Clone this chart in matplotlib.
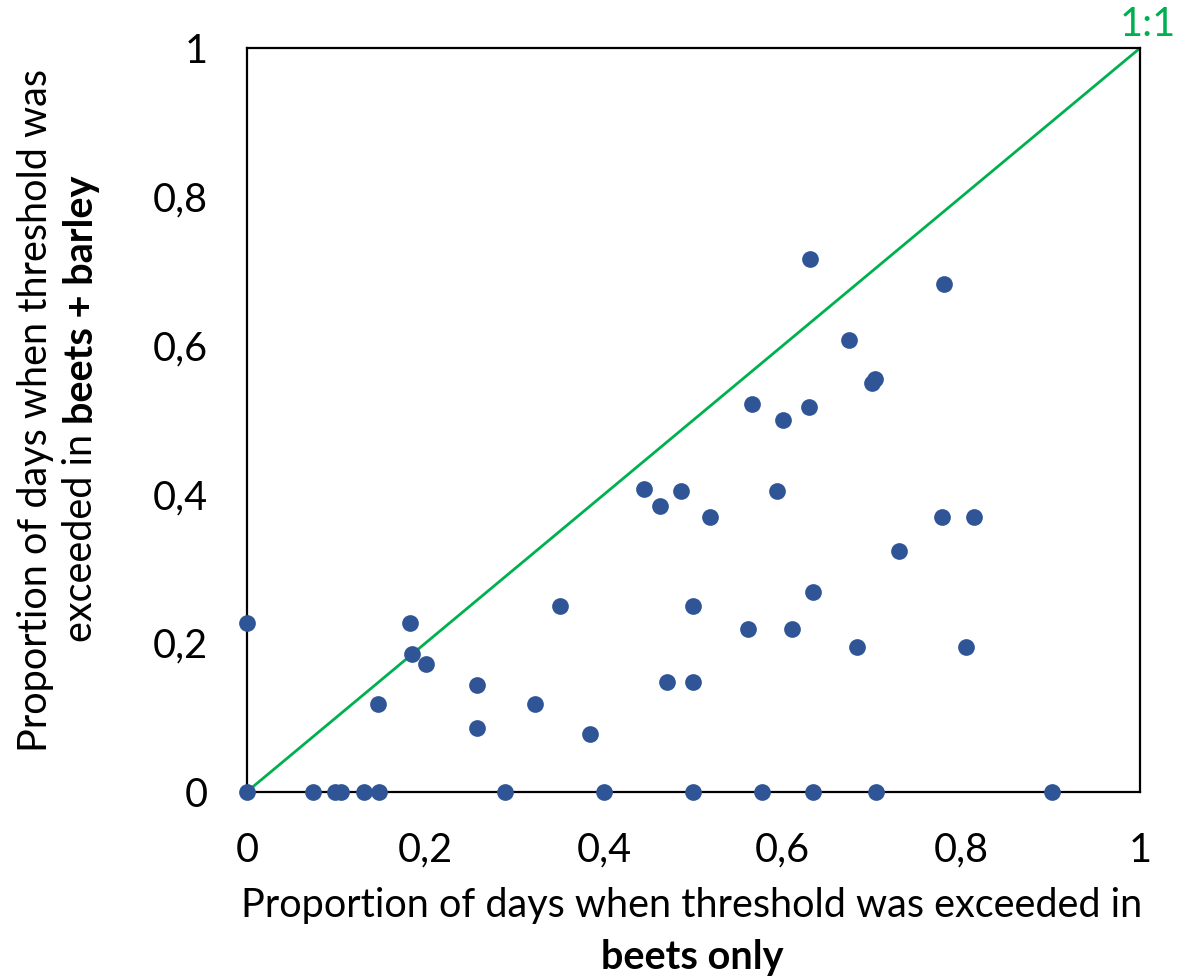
import matplotlib
matplotlib.use("Agg")
import matplotlib.pyplot as plt

plt.rcParams['font.family'] = ['Lato', 'DejaVu Sans']

# Proportion of days above threshold: beets only (x) vs beets + barley (y)
beets_only = [
    0.0, 0.182, 0.350, 0.185, 0.200, 0.257, 0.147, 0.323, 0.257, 0.384,
    0.0, 0.074, 0.0985, 0.105, 0.131, 0.148, 0.289, 0.400,
    0.445, 0.486, 0.594, 0.462, 0.518, 0.778, 0.814, 0.730, 0.634, 0.500,
    0.561, 0.610, 0.683, 0.805, 0.470, 0.500,
    0.500, 0.577, 0.634, 0.704, 0.902,
    0.630, 0.780, 0.674, 0.703, 0.700, 0.565, 0.629, 0.600,
]
beets_barley = [
    0.227, 0.227, 0.250, 0.185, 0.172, 0.143, 0.118, 0.118, 0.086, 0.077,
    0.0, 0.0, 0.0, 0.0, 0.0, 0.0, 0.0, 0.0,
    0.407, 0.405, 0.405, 0.384, 0.370, 0.370, 0.370, 0.324, 0.268, 0.250,
    0.219, 0.219, 0.195, 0.195, 0.147, 0.147,
    0.0, 0.0, 0.0, 0.0, 0.0,
    0.717, 0.683, 0.608, 0.555, 0.549, 0.522, 0.518, 0.500,
]

ticks = [0, 0.2, 0.4, 0.6, 0.8, 1]
tick_labels = ["0", "0,2", "0,4", "0,6", "0,8", "1"]

blue = "#2F5597"
green = "#00B050"
fs = 28.5

fig = plt.figure(figsize=(11.78, 9.77), dpi=100)
ax = fig.add_axes([0.2097, 0.1897, 0.758, 0.761])

ax.plot([0, 1], [0, 1], color=green, lw=2, zorder=2)
ax.scatter(beets_only, beets_barley, s=145, color=blue, zorder=3,
           clip_on=False, linewidths=0)

ax.set_xlim(0, 1)
ax.set_ylim(0, 1)
ax.set_xticks(ticks, labels=tick_labels)
ax.set_yticks(ticks, labels=tick_labels)
ax.tick_params(length=0, labelsize=fs)
ax.tick_params(axis='x', pad=29)
ax.tick_params(axis='y', pad=28)
for sp in ax.spines.values():
    sp.set_linewidth(1.6)
    sp.set_color("black")

W, H = fig.bbox.width, fig.bbox.height

fig.text(1148 / W, 1 - 25 / H, "1:1", color=green, fontsize=fs,
         ha="center", va="center")

fig.canvas.draw()
renderer = fig.canvas.get_renderer()


def text_width(s, weight):
    t = fig.text(0, 0, s, fontsize=fs, fontweight=weight)
    w = t.get_window_extent(renderer).width
    t.remove()
    return w


# x axis title, second line bold
fig.text(692 / W, 1 - 905 / H, "Proportion of days when threshold was exceeded in",
         fontsize=fs, ha="center", va="center")
fig.text(692 / W, 1 - 957 / H, "beets only", fontsize=fs, fontweight="bold",
         ha="center", va="center")

# y axis title, rotated, second line partly bold
fig.text(36 / W, 1 - 411 / H, "Proportion of days when threshold was",
         fontsize=fs, rotation=90, ha="center", va="center")
parts = [("exceeded in ", "normal"), ("beets + barley", "bold")]
widths = [text_width(s, wt) for s, wt in parts]
y0 = (H - 409) - sum(widths) / 2
for (s, wt), w in zip(parts, widths):
    fig.text(81 / W, y0 / H, s, fontsize=fs, fontweight=wt, rotation=90,
             ha="left", va="center", rotation_mode="anchor")
    y0 += w

fig.savefig("out.png", dpi=100)
